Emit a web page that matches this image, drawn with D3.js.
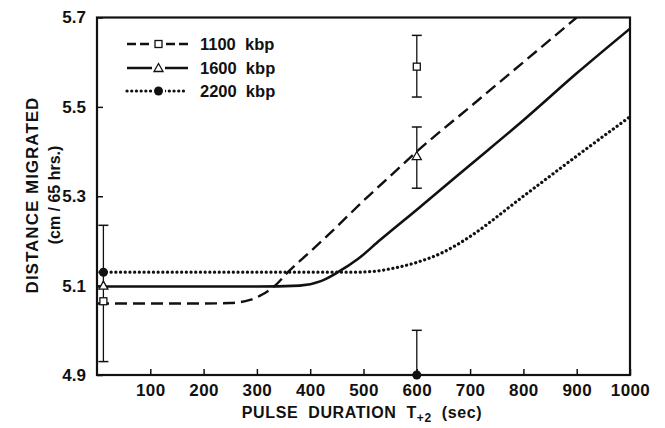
<!DOCTYPE html>
<html><head><meta charset="utf-8">
<script src="https://cdn.jsdelivr.net/npm/d3@7"></script>
<style>
body{margin:0;background:#fff;}
text{font-family:"Liberation Sans",Arial,sans-serif;font-weight:bold;fill:#111;}
</style></head>
<body><svg id="c" width="665" height="428"></svg>
<script>
// ---- data ----
const xTicks = [100,200,300,400,500,600,700,800,900,1000];
const yTicks = [4.9,5.1,5.3,5.5,5.7];
const seriesNames = ["1100  kbp","1600  kbp","2200  kbp"];
const curve1100X = [0,100,200,250,287,310,334,358,400,450,500,550,600,700,800,900];
const curve1100Y = [5.06,5.06,5.06,5.061,5.068,5.08,5.10,5.13,5.176,5.232,5.29,5.345,5.40,5.50,5.60,5.70];
const curve1600X = [0,100,200,300,380,420,452,490,531,600,700,800,900,1000];
const curve1600Y = [5.098,5.098,5.098,5.098,5.10,5.11,5.13,5.16,5.202,5.27,5.37,5.47,5.575,5.675];
const curve2200X = [0,100,200,300,400,480,520,560,600,650,687,700,800,900,1000];
const curve2200Y = [5.13,5.13,5.13,5.13,5.13,5.13,5.132,5.14,5.152,5.175,5.20,5.21,5.30,5.39,5.478];
// measured points: x, mean, low, high
const pts1100 = [[12,5.065,null,null],[600,5.59,5.522,5.66]];
const pts1600 = [[12,5.10,4.93,5.235],[600,5.39,5.318,5.455]];
const pts2200 = [[12,5.13,null,null],[600,4.90,4.90,5.0]];

const svg = d3.select("#c");
const L=97,R=630,T=17.5,B=375;
const x = d3.scaleLinear().domain([0,1000]).range([L,R]);
const y = d3.scaleLinear().domain([4.9,5.7]).range([B,T]);

svg.append("clipPath").attr("id","clip").append("rect")
  .attr("x",L).attr("y",T).attr("width",R-L).attr("height",B-T);

// axes
const xAxis = d3.axisBottom(x).tickValues(xTicks).tickSize(-6).tickPadding(9).tickFormat(d3.format("d"));
const gx = svg.append("g").attr("transform",`translate(0,${B})`).call(xAxis);
gx.select(".domain").remove();
gx.selectAll("line").attr("stroke","#111").attr("stroke-width",1.5);
gx.selectAll("text").style("font-size","17px").style("letter-spacing","0.4px").style("font-family","Liberation Sans, Arial, sans-serif").style("font-weight","bold").attr("fill","#111");

const yAxis = d3.axisLeft(y).tickValues(yTicks).tickSize(-6).tickPadding(11).tickFormat(d3.format(".1f"));
const gy = svg.append("g").attr("transform",`translate(${L},0)`).call(yAxis);
gy.select(".domain").remove();
gy.selectAll("line").attr("stroke","#111").attr("stroke-width",1.5);
gy.selectAll("text").style("font-size","17px").style("font-family","Liberation Sans, Arial, sans-serif").style("font-weight","bold").attr("fill","#111");

svg.append("rect").attr("x",L).attr("y",T).attr("width",R-L).attr("height",B-T)
  .attr("fill","none").attr("stroke","#111").attr("stroke-width",2.2);

// curves
const line = d3.line().x(d=>x(d[0])).y(d=>y(d[1])).curve(d3.curveMonotoneX);
const styles = [
  {dash:"12 6", w:2.4, cap:"butt"},
  {dash:null, w:2.6, cap:"butt"},
  {dash:"0.1 4.6", w:3.2, cap:"round"}
];
const curves = [
  d3.zip(curve1100X,curve1100Y),
  d3.zip(curve1600X,curve1600Y),
  d3.zip(curve2200X,curve2200Y)
];
const gc = svg.append("g").attr("clip-path","url(#clip)");
curves.forEach((c,i)=>{
  gc.append("path").datum(c).attr("d",line).attr("fill","none")
    .attr("stroke","#111").attr("stroke-width",styles[i].w)
    .attr("stroke-dasharray",styles[i].dash).attr("stroke-linecap",styles[i].cap);
});

// error bars
const allPts = [pts1100,pts1600,pts2200];
allPts.forEach(ps=>ps.forEach(p=>{
  if(p[2]===null) return;
  svg.append("line").attr("x1",x(p[0])).attr("x2",x(p[0])).attr("y1",y(p[2])).attr("y2",y(p[3]))
    .attr("stroke","#111").attr("stroke-width",1.3);
  [p[2],p[3]].forEach(v=>{
    if(v<=4.9) return;
    svg.append("line").attr("x1",x(p[0])-5).attr("x2",x(p[0])+5).attr("y1",y(v)).attr("y2",y(v))
      .attr("stroke","#111").attr("stroke-width",1.5);
  });
}));

function marker(g,i,cx,cy){
  if(i===0) g.append("rect").attr("x",cx-3.5).attr("y",cy-3.5).attr("width",7).attr("height",7)
      .attr("fill","#fff").attr("stroke","#111").attr("stroke-width",1.3);
  else if(i===1) g.append("path").attr("d",`M${cx},${cy-4.5}L${cx+4.5},${cy+3.5}L${cx-4.5},${cy+3.5}Z`)
      .attr("fill","#fff").attr("stroke","#111").attr("stroke-width",1.3);
  else g.append("circle").attr("cx",cx).attr("cy",cy).attr("r",4.5).attr("fill","#111");
}
allPts.forEach((ps,i)=>ps.forEach(p=>marker(svg,i,x(p[0]),y(p[1]))));

// legend
const lg = svg.append("g");
const legY=[44,68,91];
seriesNames.forEach((n,i)=>{
  lg.append("line").attr("x1",127).attr("x2",188).attr("y1",legY[i]).attr("y2",legY[i])
    .attr("stroke","#111").attr("stroke-width",styles[i].w)
    .attr("stroke-dasharray",i===0?"9 4":styles[i].dash).attr("stroke-linecap",styles[i].cap);
  lg.append("rect").attr("x",152).attr("y",legY[i]-6).attr("width",13).attr("height",12).attr("fill","#fff");
  marker(lg,i,158.5,legY[i]);
  lg.append("text").attr("x",200).attr("y",legY[i]+6).style("font-size","16.5px")
    .attr("xml:space","preserve").style("white-space","pre").text(n);
});

// axis titles
const xt = svg.append("text").attr("x",362).attr("y",418).attr("text-anchor","middle").style("font-size","16px")
  .style("letter-spacing","0.6px").attr("xml:space","preserve").style("white-space","pre");
xt.append("tspan").text("PULSE  DURATION  T");
xt.append("tspan").attr("dy",4).style("font-size","12px").text("+2");
xt.append("tspan").attr("dy",-4).text("  (sec)");

svg.append("text").attr("transform","translate(38,195) rotate(-90)").attr("text-anchor","middle")
  .style("font-size","17px").style("letter-spacing","1px").text("DISTANCE MIGRATED");
svg.append("text").attr("transform","translate(60,195) rotate(-90)").attr("text-anchor","middle")
  .style("font-size","16px").attr("xml:space","preserve").style("white-space","pre").text("(cm / 65 hrs.)");
</script></body></html>
